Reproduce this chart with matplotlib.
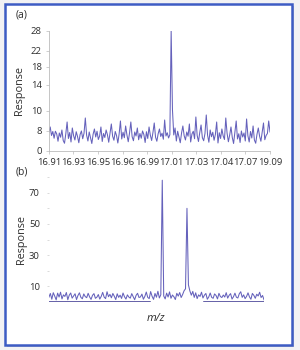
import matplotlib
matplotlib.use("Agg")
import matplotlib.pyplot as plt
import numpy as np
from matplotlib.patches import FancyBboxPatch

plt.rcParams["font.family"] = ["Open Sans", "DejaVu Sans"]

# panel (a): response values (in tick-label units) along the scan
resp_a = [
    7.5, 8.4, 6.2, 7.8, 5.1, 7.9, 6.8, 3.9, 7.2, 5.5, 8.1, 4.2, 3.1, 6.9, 8.9,
    5.0, 7.4, 3.6, 8.3, 6.1, 4.4, 7.7, 5.8, 3.3, 6.6, 8.0, 4.9, 7.1, 9.3, 6.3,
    4.0, 7.6, 5.2, 3.0, 6.7, 8.2, 5.6, 7.9, 4.6, 6.0, 8.4, 3.8, 7.0, 5.4, 8.1,
    6.5, 3.5, 7.3, 8.7, 5.9, 4.3, 7.8, 6.2, 3.2, 6.8, 9.0, 4.8, 7.5, 5.3, 8.5,
    6.4, 3.7, 7.2, 8.9, 5.7, 4.1, 7.6, 6.0, 8.3, 4.5, 7.0, 5.1, 8.0, 6.6, 3.4,
    7.7, 5.0, 8.4, 6.3, 4.2, 7.4, 8.8, 5.5, 3.9, 6.9, 8.2, 5.8, 7.1, 4.7, 9.1,
    6.0, 7.3, 5.2, 6.5, 28.0, 10.2, 6.4, 8.3, 4.0, 7.9, 5.6, 3.3, 7.2, 8.5, 6.1,
    4.4, 7.6, 5.9, 8.7, 3.6, 6.8, 7.9, 4.9, 9.4, 6.2, 3.8, 7.4, 8.6, 5.3, 4.1,
    7.0, 9.6, 6.3, 3.5, 8.1, 5.7, 7.5, 4.3, 6.6, 8.9, 3.2, 7.3, 5.0, 8.2, 6.0,
    4.6, 9.3, 7.1, 3.7, 6.4, 8.4, 5.4, 3.0, 7.7, 9.0, 4.8, 6.9, 3.4, 8.0, 5.6,
    7.2, 4.0, 9.2, 6.1, 3.6, 7.8, 5.2, 8.5, 4.4, 3.1, 6.7, 8.3, 5.9, 3.9, 7.4,
    8.8, 4.5, 6.2, 7.0, 9.0, 7.6,
]
ticks_a_x = ["16.91", "16.93", "16.95", "16.96", "16.99",
             "17.01", "17.03", "17.04", "17.07", "19.09"]
# tick labels on the y axis of (a) are not evenly spaced in the original
ticks_a_y = [0, 8, 10, 14, 18, 22, 28]
ticks_a_pos = [0, 20, 40, 66, 84, 100, 120]

# panel (b)
resp_b = [
    3.1, 5.5, 1.8, 6.0, 3.8, 1.4, 5.7, 3.2, 6.3, 2.0, 4.6, 3.6, 6.1, 1.5, 4.4,
    5.8, 2.5, 3.9, 5.3, 1.6, 4.2, 5.9, 3.0, 2.1, 5.2, 3.5, 2.8, 5.6, 3.3, 1.7,
    4.3, 5.4, 2.4, 3.1, 4.8, 1.9, 3.6, 6.2, 3.2, 2.2, 6.6, 3.4, 4.9, 2.7, 5.5,
    3.7, 1.6, 5.3, 3.0, 4.4, 2.3, 5.8, 3.4, 1.9, 4.6, 3.2, 2.5, 5.4, 3.5, 1.5,
    4.3, 5.6, 2.9, 3.3, 5.1, 1.8, 3.6, 6.4, 3.0, 2.2, 6.7, 3.7, 1.7, 5.5, 3.1,
    6.9, 2.6, 4.7, 78.0, 3.9, 2.0, 5.7, 3.2, 6.5, 2.4, 4.5, 3.4, 1.6, 5.6, 3.8,
    6.1, 2.9, 4.8, 7.2, 8.5, 60.0, 11.0, 7.1, 4.4, 6.8, 3.0, 5.9, 2.2, 4.6, 3.6,
    6.3, 2.6, 4.4, 5.5, 1.8, 3.3, 5.8, 3.0, 2.4, 5.2, 4.2, 2.0, 5.6, 3.5, 2.9,
    4.5, 3.2, 6.0, 2.5, 4.3, 5.4, 1.9, 3.4, 5.7, 3.1, 2.6, 5.3, 6.6, 3.0, 4.6,
    2.2, 3.6, 5.9, 3.3, 1.8, 5.5, 4.3, 2.4, 5.0, 3.9, 6.3, 2.9, 4.2, 1.5,
]
ticks_b_y = [10, 30, 50, 70]

line_col = "#5450b4"
txt_col = "#2e2e2e"
spine_col = "#bbbbbb"

fig = plt.figure(figsize=(3, 3.5), dpi=100)
fig.patch.set_facecolor("#f2f2f4")

# blue frame round the whole figure
shadow = FancyBboxPatch((0.022, 0.008), 0.957, 0.974, boxstyle="square,pad=0",
                        transform=fig.transFigure, fc="#c8c8cc", ec="none", zorder=-2)
frame = FancyBboxPatch((0.017, 0.014), 0.957, 0.974, boxstyle="square,pad=0",
                       transform=fig.transFigure, fc="white", ec="#3d5cc4",
                       lw=1.8, zorder=-1)
fig.patches.extend([shadow, frame])


def fwd(v):
    return np.interp(v, ticks_a_y, ticks_a_pos)


def inv(p):
    return np.interp(p, ticks_a_pos, ticks_a_y)


# ---- panel (a)
ax1 = fig.add_axes([0.163, 0.5686, 0.737, 0.343])
ax1.set_facecolor("none")
xa = np.arange(len(resp_a))
ax1.plot(xa, resp_a, color=line_col, lw=0.75, alpha=0.9)
ax1.set_yscale("function", functions=(fwd, inv))
ax1.set_ylim(0, 28)
ax1.set_xlim(0, len(resp_a) - 1)
ax1.set_yticks(ticks_a_y)
ax1.set_yticklabels([str(t) for t in ticks_a_y])
ax1.minorticks_off()
ax1.set_xticks(np.linspace(0, len(resp_a) - 1, len(ticks_a_x)))
ax1.set_xticklabels(ticks_a_x)
ax1.tick_params(labelsize=6.8, colors=txt_col, length=2, width=0.5, pad=3,
                color=spine_col)
for s in ["top", "right"]:
    ax1.spines[s].set_visible(False)
for s in ["left", "bottom"]:
    ax1.spines[s].set_color(spine_col)
    ax1.spines[s].set_linewidth(0.6)
ax1.set_ylabel("Response", fontsize=7.8, color=txt_col, labelpad=4)
fig.text(0.053, 0.957, "(a)", fontsize=7.5, color=txt_col, va="center")

# ---- panel (b)
ax2 = fig.add_axes([0.163, 0.137, 0.717, 0.357])
ax2.set_facecolor("none")
xb = np.arange(len(resp_b))
ax2.plot(xb, resp_b, color=line_col, lw=0.75, alpha=0.9)
ax2.axhline(0, xmin=0, xmax=0.47, color="#3a3590", lw=1.1)
ax2.axhline(0, xmin=0.72, xmax=1.0, color="#3a3590", lw=1.1)
ax2.set_ylim(0, 80)
ax2.set_xlim(0, len(resp_b) - 1)
ax2.set_yticks(ticks_b_y)
ax2.set_yticks(np.arange(10, 90, 10), minor=True)
ax2.set_xticks([])
ax2.tick_params(axis="y", which="both", labelsize=6.8, colors=txt_col,
                length=1.5, width=0.5, pad=5, color="#cccccc")
for s in ["top", "right", "left", "bottom"]:
    ax2.spines[s].set_visible(False)
ax2.set_ylabel("Response", fontsize=7.8, color=txt_col, labelpad=1)
ax2.set_xlabel("m/z", fontsize=8, style="italic", color=txt_col, labelpad=8)
fig.text(0.053, 0.51, "(b)", fontsize=7.5, color=txt_col, va="center")

fig.savefig("out.png", dpi=100, facecolor=fig.get_facecolor())
